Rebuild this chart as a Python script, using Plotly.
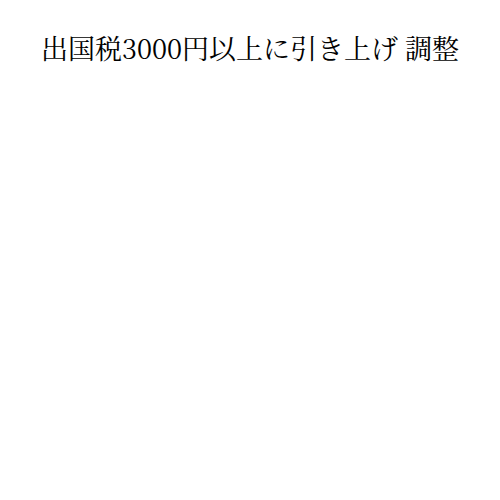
import plotly.graph_objects as go

title_text = "出国税3000円以上に引き上げ 調整"
categories = []
values = []

fig = go.Figure(go.Scatter(x=categories, y=values, mode="markers"))
fig.update_layout(
    width=500, height=500,
    title=dict(text=title_text, x=0.484, xanchor="center", y=0.916, yanchor="middle",
               font=dict(family="Noto Serif CJK JP, Noto Sans CJK JP, serif", size=27, color="#000000")),
    paper_bgcolor="white", plot_bgcolor="white",
    xaxis=dict(visible=False), yaxis=dict(visible=False),
    margin=dict(l=0, r=0, t=0, b=0),
    showlegend=False,
)
fig.write_html("out.html")
